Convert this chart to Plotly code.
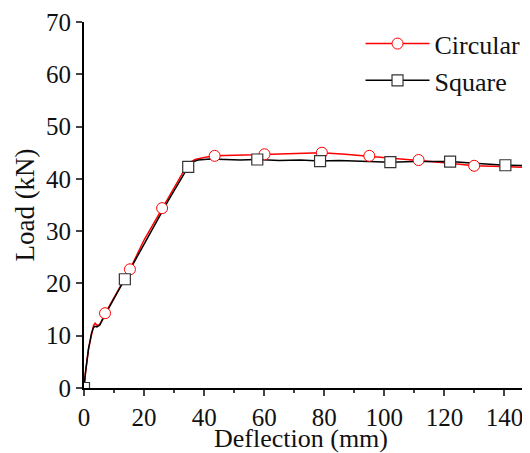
import plotly.graph_objects as go

# Curves
circ_x = [0, 0.5, 1.5, 2.5, 3.2, 3.7, 4.3, 5.2, 7, 10, 13, 15.3, 20, 26, 30, 34, 35.5, 37, 40, 43.5,
          50, 60, 70, 79, 87, 95, 103, 111, 120, 130, 140, 148.5]
circ_y = [0, 3, 7.5, 10.5, 12.0, 12.4, 12.0, 12.1, 14.2, 17.3, 20.5, 22.7, 28.3, 34.4, 38.3, 42.3, 43.2,
          43.7, 44.1, 44.4, 44.5, 44.7, 44.9, 45.0, 44.7, 44.3, 44.0, 43.6, 43.1, 42.5, 42.3, 42.2]
sq_x = [0, 0.5, 1.5, 2.5, 3.2, 3.7, 4.3, 5.2, 7, 10, 13.6, 17, 22, 28, 34.7, 36, 38, 42, 47, 52, 57.7,
        65, 72, 78.6, 85, 95, 102, 110, 121.9, 130, 140.3, 148.5]
sq_y = [0, 3, 7.5, 10.5, 11.6, 11.8, 11.7, 12.0, 14.0, 17.1, 20.8, 24.3, 29.6, 35.8, 42.3, 43.2, 43.6,
        43.8, 43.7, 43.6, 43.7, 43.5, 43.6, 43.4, 43.5, 43.4, 43.2, 43.3, 43.3, 43.0, 42.6, 42.5]

# Marker positions
circ_mx = [0, 7, 15.3, 26, 43.5, 60.1, 79.2, 95, 111.4, 129.9]
circ_my = [0, 14.3, 22.7, 34.4, 44.4, 44.7, 45.0, 44.4, 43.6, 42.5]
sq_mx = [0, 13.6, 34.7, 57.7, 78.6, 102, 121.9, 140.3]
sq_my = [0, 20.8, 42.3, 43.7, 43.4, 43.2, 43.3, 42.6]

series_names = ["Circular", "Square"]
x_title = "Deflection (mm)"
y_title = "Load (kN)"
x_range = [0, 148.5]
y_range = [0, 70]

FONT = "Liberation Serif"
RED = "#ff0000"
BLK = "#000000"

fig = go.Figure()
fig.add_trace(go.Scatter(x=circ_x, y=circ_y, mode="lines", line=dict(color=RED, width=1.5), showlegend=False))
fig.add_trace(go.Scatter(x=sq_x, y=sq_y, mode="lines", line=dict(color=BLK, width=1.5), showlegend=False))
fig.add_trace(go.Scatter(x=circ_mx, y=circ_my, mode="markers", showlegend=False,
                         marker=dict(symbol="circle", size=11, color="white", line=dict(color=RED, width=1))))
fig.add_trace(go.Scatter(x=sq_mx, y=sq_my, mode="markers", showlegend=False,
                         marker=dict(symbol="square", size=11, color="white", line=dict(color="#333333", width=1.2))))
# legend entries
fig.add_trace(go.Scatter(x=[None], y=[None], mode="lines+markers", name=series_names[0],
                         line=dict(color=RED, width=1.5),
                         marker=dict(symbol="circle", size=11, color="white", line=dict(color=RED, width=1))))
fig.add_trace(go.Scatter(x=[None], y=[None], mode="lines+markers", name=series_names[1],
                         line=dict(color=BLK, width=1.5),
                         marker=dict(symbol="square", size=11, color="white", line=dict(color="#333333", width=1.2))))

# page body has an 8px default margin; the figure is sized to fit the 530x453 window
fig.update_layout(
    width=522, height=445,
    margin=dict(l=76, r=0, t=14, b=65, autoexpand=False),
    plot_bgcolor="white", paper_bgcolor="white",
    font=dict(family=FONT, size=24, color="#111111"),
    showlegend=True,
    legend=dict(x=0.62, y=1.005, xanchor="left", yanchor="top", bgcolor="rgba(0,0,0,0)",
                font=dict(family=FONT, size=26), itemwidth=64, tracegroupgap=0),
    xaxis=dict(range=x_range, tickmode="linear", tick0=0, dtick=20, ticks="outside", ticklen=6, tickwidth=1.5,
               showline=True, linewidth=2, linecolor="black", showgrid=False, zeroline=False,
               minor=dict(ticks="outside", ticklen=3, dtick=10, tick0=10, tickwidth=1.5, showgrid=False),
               automargin=False, tickfont=dict(size=25)),
    yaxis=dict(range=y_range, tickmode="linear", tick0=0, dtick=10, ticks="outside", ticklen=6, tickwidth=1.5,
               showline=True, linewidth=2, linecolor="black", showgrid=False, zeroline=False,
               automargin=False, tickfont=dict(size=25),
               title=dict(text=y_title, standoff=4, font=dict(size=27))),
    xaxis2=dict(range=x_range, overlaying="x", side="top", tickmode="linear", tick0=0, dtick=15,
                ticks="inside", ticklen=6, tickwidth=1.5, showticklabels=False, showline=True,
                linewidth=2, linecolor="black", showgrid=False, zeroline=False),
    yaxis2=dict(range=y_range, overlaying="y", side="right", tickmode="linear", tick0=0, dtick=10,
                ticks="inside", ticklen=4, tickwidth=1.5, showticklabels=False, showline=False,
                showgrid=False, zeroline=False),
    annotations=[dict(text=x_title, xref="paper", yref="paper", x=0.487, y=-0.137,
                      xanchor="center", yanchor="middle", showarrow=False, borderpad=0,
                      font=dict(family=FONT, size=26, color="#111111"))],
)

fig.write_html("out.html")
